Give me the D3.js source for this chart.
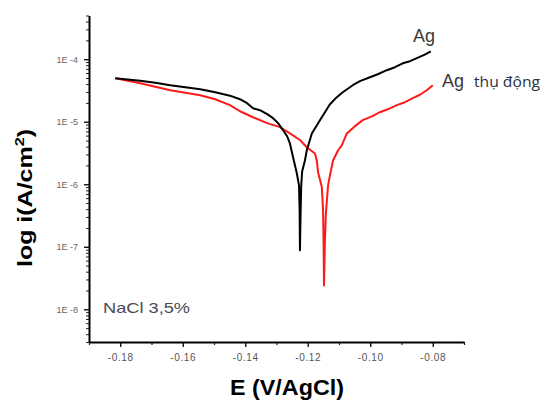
<!DOCTYPE html>
<html>
<head>
<meta charset="utf-8">
<script src="https://cdn.jsdelivr.net/npm/d3@7"></script>
<style>
  html, body { margin: 0; padding: 0; background: #fff; }
  svg { display: block; }
</style>
</head>
<body>
<svg id="chart" width="541" height="400"></svg>
<script>
// ---- data ----
const agE = [-0.1816, -0.1784, -0.1736, -0.1688, -0.1640, -0.1592, -0.1544, -0.1496, -0.1449, -0.1417, -0.1394, -0.1375, -0.1353, -0.1330, -0.1311,
             -0.1295, -0.1279, -0.1266, -0.1257, -0.1247, -0.1235, -0.1228, -0.1226, -0.1225,
             -0.1223, -0.1221, -0.1218, -0.1209, -0.1203, -0.1187, -0.1161, -0.1129, -0.1107, -0.1088, -0.1056, -0.1033, -0.1001,
             -0.0976, -0.0947, -0.0921, -0.0896, -0.0873, -0.0851, -0.0829, -0.0806];
const agI = [4.97e-5, 4.79e-5, 4.53e-5, 4.21e-5, 3.84e-5, 3.56e-5, 3.31e-5, 2.96e-5, 2.61e-5, 2.29e-5, 1.98e-5, 1.64e-5, 1.53e-5, 1.32e-5, 1.14e-5,
             9.5e-6, 7.3e-6, 5.86e-6, 4.5e-6, 2.7e-6, 1.5e-6, 9.6e-7, 3.8e-7, 8.8e-8,
             3.2e-7, 9.3e-7, 1.6e-6, 2.4e-6, 3.5e-6, 6.5e-6, 1.06e-5, 1.9e-5, 2.47e-5, 2.96e-5, 3.84e-5, 4.45e-5, 5.15e-5,
             5.75e-5, 6.67e-5, 7.45e-5, 8.6e-5, 9.3e-5, 1.04e-4, 1.16e-4, 1.34e-4];

const agPassE = [-0.1816, -0.1784, -0.1736, -0.1688, -0.1640, -0.1592, -0.1544, -0.1496, -0.1449, -0.1417, -0.1375, -0.1330, -0.1289, -0.1257,
                 -0.1225, -0.1203, -0.1177, -0.1171, -0.1167, -0.1155, -0.1151, -0.1149, -0.1148,
                 -0.1145, -0.1142, -0.1135, -0.1129, -0.1119, -0.1103, -0.1091, -0.1075, -0.1049, -0.1024, -0.0995, -0.0969,
                 -0.0944, -0.0915, -0.0889, -0.0864, -0.0841, -0.0819, -0.0800];
const agPassI = [4.97e-5, 4.61e-5, 4.13e-5, 3.63e-5, 3.19e-5, 2.91e-5, 2.65e-5, 2.29e-5, 1.84e-5, 1.47e-5, 1.18e-5, 9.5e-6, 8.2e-6, 6.5e-6,
                 5.1e-6, 3.9e-6, 3.1e-6, 2.4e-6, 1.56e-6, 9.0e-7, 3.8e-7, 8.8e-8, 2.4e-8,
                 1.27e-7, 3.4e-7, 9.6e-7, 1.39e-6, 2.4e-6, 3.5e-6, 4.2e-6, 6.5e-6, 8.5e-6, 1.06e-5, 1.22e-5, 1.42e-5,
                 1.58e-5, 1.84e-5, 2.05e-5, 2.38e-5, 2.7e-5, 3.19e-5, 3.84e-5];

const xTickValues = [-0.18, -0.16, -0.14, -0.12, -0.10, -0.08];
const xTickLabels = ["-0.18", "-0.16", "-0.14", "-0.12", "-0.10", "-0.08"];
const xMinorTicks = [-0.19, -0.17, -0.15, -0.13, -0.11, -0.09, -0.07];
const yTickValues = [1e-8, 1e-7, 1e-6, 1e-5, 1e-4];
const yTickLabels = ["1E -8", "1E -7", "1E -6", "1E -5", "1E -4"];
const xDomain = [-0.19, -0.07];
const yDomain = [3e-9, 5e-4];

// ---- chart ----
const svg = d3.select("#chart");
const x = d3.scaleLinear().domain(xDomain).range([89, 464]);
const y = d3.scaleLog().domain(yDomain).range([342, 15.5]);

// minor y ticks (2..9 per decade inside domain)
const yMinor = [];
for (let e = -9; e <= -4; e++) {
  for (let m = 2; m <= 9; m++) {
    const v = m * Math.pow(10, e);
    if (v >= yDomain[0] && v <= yDomain[1]) yMinor.push(v);
  }
}

// curves
const line = d3.line().x(d => x(d[0])).y(d => y(d[1]));
const agData = agE.map((e, i) => [e, agI[i]]);
const agPassData = agPassE.map((e, i) => [e, agPassI[i]]);

svg.append("path").datum(agPassData)
  .attr("d", line).attr("fill", "none").attr("stroke", "#ff1a1a")
  .attr("stroke-width", 2).attr("stroke-linejoin", "round");
svg.append("path").datum(agData)
  .attr("d", line).attr("fill", "none").attr("stroke", "#000")
  .attr("stroke-width", 2).attr("stroke-linejoin", "round");

// y axis
const yAxisMinor = svg.append("g").attr("transform", "translate(89,0)")
  .call(d3.axisLeft(y).tickValues(yMinor).tickSize(3).tickSizeOuter(0).tickFormat(""));
yAxisMinor.select(".domain").remove();
yAxisMinor.selectAll("line").attr("stroke", "#222").attr("stroke-width", 1);

const yAxis = svg.append("g").attr("transform", "translate(89,0)")
  .call(d3.axisLeft(y).tickValues(yTickValues).tickSize(5).tickSizeOuter(0)
        .tickFormat((d, i) => yTickLabels[i]));
yAxis.select(".domain").attr("stroke", "#000").attr("stroke-width", 2);
yAxis.selectAll(".tick line").attr("stroke", "#000").attr("stroke-width", 1.3);
yAxis.selectAll(".tick text").attr("x", -11).attr("font-family", "Liberation Sans, Arial, sans-serif")
  .attr("font-size", 9).attr("fill", "#666");

// x axis
const xAxisMinor = svg.append("g").attr("transform", "translate(0,342)")
  .call(d3.axisBottom(x).tickValues(xMinorTicks).tickSize(3).tickSizeOuter(0).tickFormat(""));
xAxisMinor.select(".domain").remove();
xAxisMinor.selectAll("line").attr("stroke", "#222").attr("stroke-width", 1.2);

const xAxis = svg.append("g").attr("transform", "translate(0,342)")
  .call(d3.axisBottom(x).tickValues(xTickValues).tickSize(5).tickSizeOuter(0)
        .tickFormat((d, i) => xTickLabels[i]));
xAxis.select(".domain").attr("stroke", "#000").attr("stroke-width", 2);
xAxis.selectAll(".tick line").attr("stroke", "#000").attr("stroke-width", 1.3);
xAxis.selectAll(".tick text").attr("y", 12).attr("font-family", "Liberation Sans, Arial, sans-serif")
  .attr("font-size", 10).attr("fill", "#555").attr("letter-spacing", 0.6);

// axis titles
svg.append("text")
  .attr("x", 230).attr("y", 395)
  .attr("font-family", "Liberation Sans, Arial, sans-serif").attr("font-weight", "bold")
  .attr("font-size", 22).attr("fill", "#000")
  .attr("textLength", 114).attr("lengthAdjust", "spacingAndGlyphs")
  .text("E (V/AgCl)");

const yt = svg.append("text")
  .attr("transform", "translate(32,267) rotate(-90)")
  .attr("font-family", "Liberation Sans, Arial, sans-serif").attr("font-weight", "bold")
  .attr("font-size", 20).attr("fill", "#000")
  .attr("textLength", 138).attr("lengthAdjust", "spacingAndGlyphs");
yt.append("tspan").text("log i(A/cm");
yt.append("tspan").attr("dy", -8).attr("font-size", 13).text("2");
yt.append("tspan").attr("dy", 8).text(")");

// annotations
svg.append("text").attr("x", 103).attr("y", 313)
  .attr("font-family", "Liberation Sans, Arial, sans-serif").attr("font-size", 15)
  .attr("fill", "#4a4858").attr("textLength", 87).attr("lengthAdjust", "spacingAndGlyphs")
  .text("NaCl 3,5%");

svg.append("text").attr("x", 413).attr("y", 42)
  .attr("font-family", "Liberation Sans, Arial, sans-serif").attr("font-size", 18)
  .attr("fill", "#3a3a3a").text("Ag");

svg.append("text").attr("x", 442).attr("y", 87)
  .attr("font-family", "Liberation Sans, Arial, sans-serif").attr("font-size", 18)
  .attr("fill", "#3a3a3a").text("Ag");
svg.append("text").attr("x", 474).attr("y", 87)
  .attr("font-family", "Open Sans, Noto Sans, sans-serif").attr("font-size", 14)
  .attr("fill", "#263244").attr("textLength", 66).attr("lengthAdjust", "spacingAndGlyphs")
  .text("thụ động");
</script>
</body>
</html>
